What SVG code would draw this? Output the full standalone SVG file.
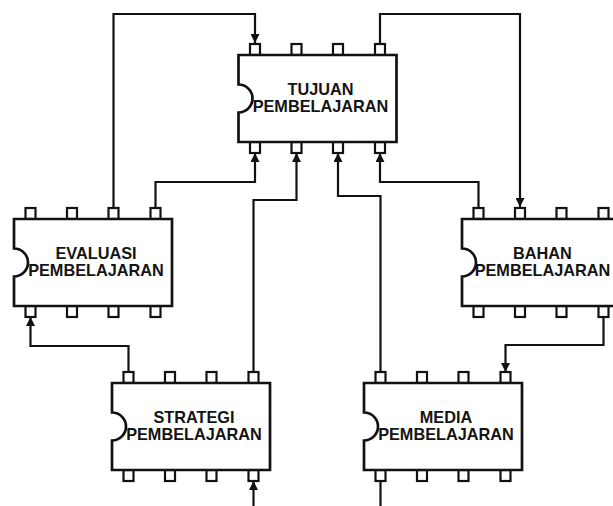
<svg xmlns="http://www.w3.org/2000/svg" xmlns:xlink="http://www.w3.org/1999/xlink" width="613" height="506" viewBox="0 0 613 506">
  <style>
    .body { fill: #ffffff; stroke: #111111; stroke-width: 2.7; stroke-linejoin: miter; }
    .pin { fill: #ffffff; stroke: #111111; stroke-width: 2.2; }
    .wire { fill: none; stroke: #111111; stroke-width: 2.2; }
    .arrow { marker-end: url(#head); }
    .label { font-family: "Liberation Sans", Arial, sans-serif; font-weight: bold; font-size: 16.3px; fill: #141414; text-anchor: middle; }
  </style>
  <defs>
    <marker id="head" viewBox="0 0 10 10" refX="10" refY="5" markerWidth="9" markerHeight="9" markerUnits="userSpaceOnUse" orient="auto">
      <path d="M0,0 L10,5 L0,10 Z" fill="#111111"/>
    </marker>
    <!-- DIP-style chip: body with notch, four pins on top and bottom -->
    <g id="chip">
      <rect class="pin" x="11.5" y="-11" width="10" height="11"/>
      <rect class="pin" x="53" y="-11" width="10" height="11"/>
      <rect class="pin" x="94.5" y="-11" width="10" height="11"/>
      <rect class="pin" x="136.5" y="-11" width="10" height="11"/>
      <rect class="pin" x="11.5" y="87" width="10" height="11"/>
      <rect class="pin" x="53" y="87" width="10" height="11"/>
      <rect class="pin" x="94.5" y="87" width="10" height="11"/>
      <rect class="pin" x="136.5" y="87" width="10" height="11"/>
      <path class="body" d="M0,0 H158 V87 H0 V57.5 A14,14 0 0 0 0,29.5 Z"/>
    </g>
  </defs>

  <g id="connectors">
    <path class="wire arrow" d="M113.5,208 V14 H255 V43"/>
    <path class="wire arrow" d="M380,44 V14 H520 V207"/>
    <path class="wire arrow" d="M155.5,208 V182 H255 V153"/>
    <path class="wire arrow" d="M253.5,372 V200 H296.5 V153"/>
    <path class="wire arrow" d="M380.5,372 V196 H338 V153"/>
    <path class="wire arrow" d="M478.5,208 V182 H380 V153"/>
    <path class="wire arrow" d="M128.5,372 V346 H30.5 V317"/>
    <path class="wire arrow" d="M603.5,317 V345 H505.5 V372"/>
    <path class="wire arrow" d="M253.5,506 V481"/>
    <path class="wire" d="M380.5,481 V506"/>
  </g>

  <g id="tujuan" transform="translate(238.5,55)">
    <use xlink:href="#chip" href="#chip"/>
    <text class="label" x="82" y="39.5">TUJUAN</text>
    <text class="label" x="82" y="57">PEMBELAJARAN</text>
  </g>

  <g id="evaluasi" transform="translate(14,219)">
    <use xlink:href="#chip" href="#chip"/>
    <text class="label" x="82" y="39.5">EVALUASI</text>
    <text class="label" x="82" y="57">PEMBELAJARAN</text>
  </g>

  <g id="bahan" transform="translate(462,219)">
    <use xlink:href="#chip" href="#chip"/>
    <text class="label" x="80.5" y="39.5">BAHAN</text>
    <text class="label" x="80.5" y="57">PEMBELAJARAN</text>
  </g>

  <g id="strategi" transform="translate(112,383)">
    <use xlink:href="#chip" href="#chip"/>
    <text class="label" x="82" y="39.5">STRATEGI</text>
    <text class="label" x="82" y="57">PEMBELAJARAN</text>
  </g>

  <g id="media" transform="translate(364,383)">
    <use xlink:href="#chip" href="#chip"/>
    <text class="label" x="82" y="39.5">MEDIA</text>
    <text class="label" x="82" y="57">PEMBELAJARAN</text>
  </g>
</svg>
